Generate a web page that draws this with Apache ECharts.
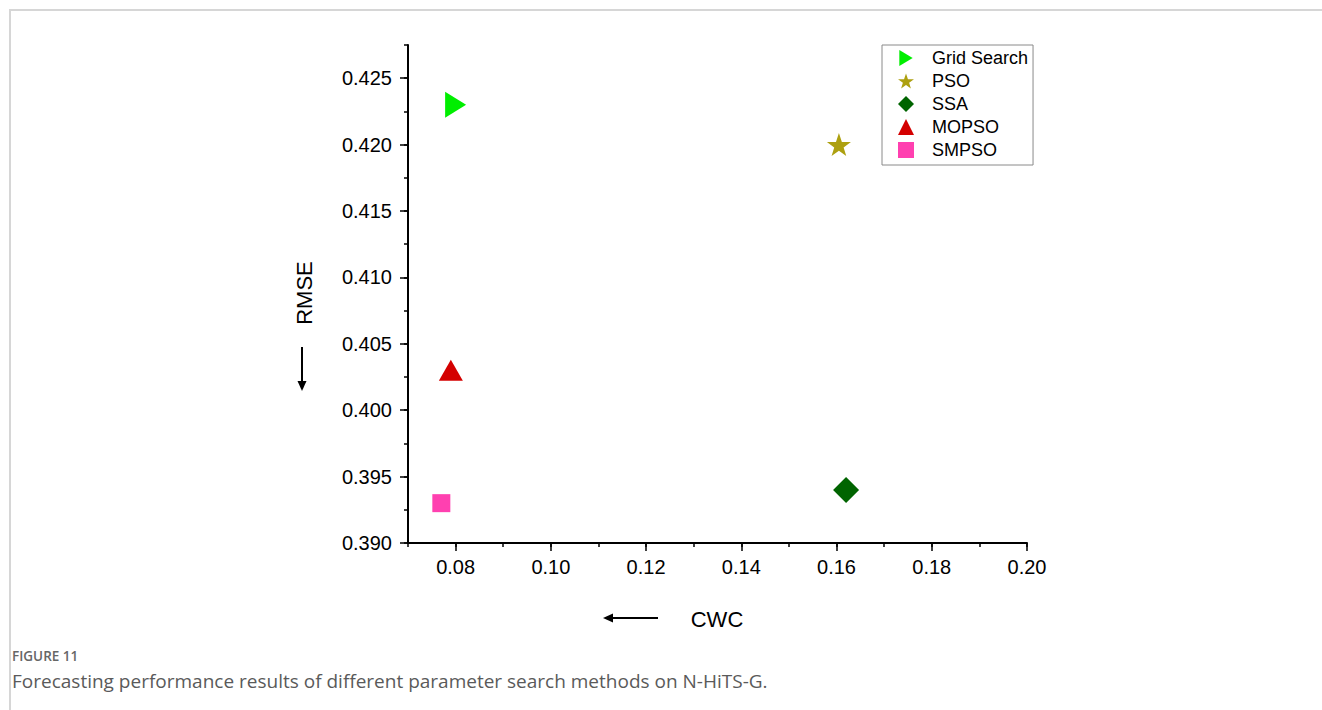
<!DOCTYPE html>
<html>
<head>
<meta charset="utf-8">
<script src="https://cdn.jsdelivr.net/npm/echarts@6/dist/echarts.min.js"></script>
<style>
  html, body { margin: 0; padding: 0; background: #fff; }
  #wrap { position: relative; width: 1322px; height: 710px; overflow: hidden; }
  #frame { position: absolute; left: 9px; top: 9px; right: 0; bottom: 0;
           border-top: 2px solid #d6d6d6; border-left: 2px solid #d6d6d6; }
  #chart { position: absolute; left: 0; top: 0; width: 1322px; height: 710px; }
  .cap { position: absolute; left: 12px; font-family: "Open Sans", "Noto Sans", sans-serif; color: #666; white-space: nowrap; }
  #figno { top: 647px; font-size: 13.5px; font-weight: 600; }
  #figtxt { top: 668px; font-size: 19px; color: #5a5a5a; }
</style>
</head>
<body>
<div id="wrap">
  <div id="frame"></div>
  <div id="chart"></div>
  <div class="cap" id="figno">FIGURE 11</div>
  <div class="cap" id="figtxt">Forecasting performance results of different parameter search methods on N-HiTS-G.</div>
</div>
<script>
// Parameter search methods and their scores (CWC on x, RMSE on y)
const methods = ['Grid Search', 'PSO', 'SSA', 'MOPSO', 'SMPSO'];
const cwcValues = [0.080, 0.1605, 0.162, 0.079, 0.077];
const rmseValues = [0.423, 0.420, 0.394, 0.403, 0.393];

// Major tick positions for both axes
const xTickValues = [0.08, 0.10, 0.12, 0.14, 0.16, 0.18, 0.20];
const yTickValues = [0.390, 0.395, 0.400, 0.405, 0.410, 0.415, 0.420, 0.425];

const STAR = 'path://M50,0 L61.8,35.1 L98.1,35.1 L68.8,56.7 L79.4,91 L50,70 L20.6,91 L31.2,56.7 L1.9,35.1 L38.2,35.1 Z';
const RIGHT_TRIANGLE = 'path://M0,0 L10,6 L0,12 Z';
const markerStyles = [
  { symbol: RIGHT_TRIANGLE, size: [21, 26], color: '#00ee00' },
  { symbol: STAR, size: [24, 23], color: '#ada010' },
  { symbol: 'diamond', size: [26, 26], color: '#006400' },
  { symbol: 'triangle', size: [24, 21], color: '#d40000' },
  { symbol: 'rect', size: [18, 18], color: '#ff40b0' }
];

const FONT = '"Liberation Sans", Arial, sans-serif';

const chart = echarts.init(document.getElementById('chart'), null, { renderer: 'svg' });

const series = methods.map((name, i) => ({
  name: name,
  type: 'scatter',
  xAxisIndex: 0,
  yAxisIndex: 0,
  symbol: markerStyles[i].symbol,
  symbolSize: markerStyles[i].size,
  itemStyle: { color: markerStyles[i].color, opacity: 1 },
  emphasis: { disabled: true },
  data: [[cwcValues[i], rmseValues[i]]]
}));

chart.setOption({
  animation: false,
  grid: { left: 408, right: 295, top: 45, bottom: 167, containLabel: false },
  legend: {
    orient: 'vertical',
    left: 882, top: 45,
    padding: [4, 5, 6, 16],
    itemGap: 5,
    itemWidth: 16,
    itemHeight: 16,
    selectedMode: false,
    borderColor: '#8a8a8a', borderWidth: 1, borderRadius: 0,
    textStyle: { fontFamily: FONT, fontSize: 18, color: '#000', lineHeight: 18, padding: [0, 0, 0, 13] },
    data: methods
  },
  xAxis: [
    {
      type: 'value', min: 0.07, max: 0.20, interval: 0.01,
      splitLine: { show: false },
      axisLine: { lineStyle: { color: '#000', width: 2 } },
      axisTick: { length: 8, lineStyle: { color: '#000', width: 1.5 }, customValues: xTickValues },
      axisLabel: {
        customValues: xTickValues, margin: 14,
        fontFamily: FONT, fontSize: 20, color: '#000',
        formatter: v => v.toFixed(2)
      }
    },
    {
      type: 'value', min: 0.07, max: 0.20, interval: 0.01, position: 'bottom',
      splitLine: { show: false },
      axisLine: { show: false },
      axisTick: { length: 4, lineStyle: { color: '#000', width: 1.5 } },
      axisLabel: { show: false }
    }
  ],
  yAxis: [
    {
      type: 'value', min: 0.39, max: 0.4275, interval: 0.0025,
      splitLine: { show: false },
      axisLine: { lineStyle: { color: '#000', width: 2 } },
      axisTick: { length: 8, lineStyle: { color: '#000', width: 1.5 }, customValues: yTickValues },
      axisLabel: {
        customValues: yTickValues, margin: 16,
        fontFamily: FONT, fontSize: 20, color: '#000',
        formatter: v => v.toFixed(3)
      }
    },
    {
      type: 'value', min: 0.39, max: 0.4275, interval: 0.0025, position: 'left',
      splitLine: { show: false },
      axisLine: { show: false },
      axisTick: { length: 4, lineStyle: { color: '#000', width: 1.5 } },
      axisLabel: { show: false }
    }
  ],
  graphic: [
    // y-axis title with its downward arrow
    { type: 'text', x: 304, y: 293, rotation: Math.PI / 2,
      style: { text: 'RMSE', fontFamily: FONT, fontSize: 22, fill: '#000', align: 'center', verticalAlign: 'middle' } },
    { type: 'line', shape: { x1: 302, y1: 347, x2: 302, y2: 384 }, style: { stroke: '#000', lineWidth: 2 } },
    { type: 'polygon', shape: { points: [[297.5, 381], [306.5, 381], [302, 391]] }, style: { fill: '#000' } },
    // x-axis title with its leftward arrow
    { type: 'text', x: 717, y: 619,
      style: { text: 'CWC', fontFamily: FONT, fontSize: 22, fill: '#000', align: 'center', verticalAlign: 'middle' } },
    { type: 'line', shape: { x1: 658, y1: 618, x2: 610, y2: 618 }, style: { stroke: '#000', lineWidth: 2 } },
    { type: 'polygon', shape: { points: [[613, 613.5], [613, 622.5], [603, 618]] }, style: { fill: '#000' } }
  ],
  series: series
});
</script>
</body>
</html>
